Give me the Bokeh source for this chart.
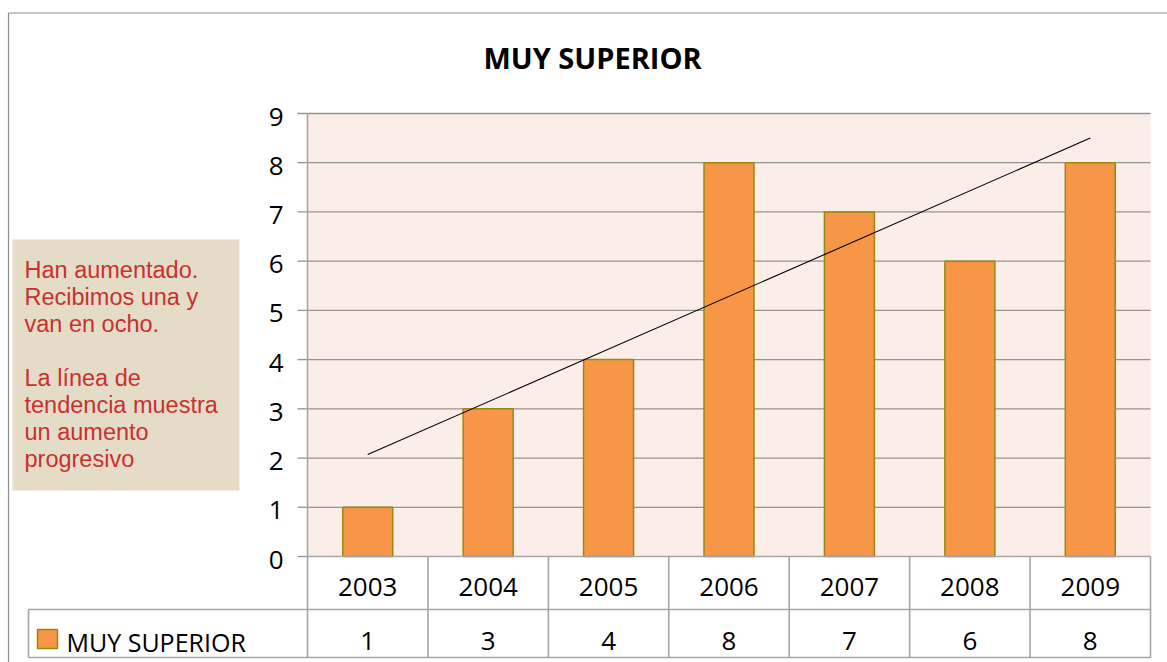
import numpy as np
from bokeh.plotting import figure
from bokeh.models import Range1d, ColumnDataSource
from bokeh.core.properties import value
from bokeh.embed import file_html
from bokeh.resources import INLINE

# ---------------- data ----------------
title_text = "MUY SUPERIOR"
series_name = "MUY SUPERIOR"
years = ["2003", "2004", "2005", "2006", "2007", "2008", "2009"]
values = [1, 3, 4, 8, 7, 6, 8]
y_ticks = [0, 1, 2, 3, 4, 5, 6, 7, 8, 9]
note_lines = [
    "Han aumentado.",
    "Recibimos una  y",
    "van en ocho.",
    "",
    "La línea de",
    "tendencia muestra",
    "un aumento",
    "progresivo",
]

# ---------------- layout (pixels in the picture) ----------------
W, H = 1167, 662
OX, OY = 0, 0
PL, PR = 307, 1150          # plot area left/right
PT, PB = 113, 556           # plot area top/bottom
n = len(years)
CW = (PR - PL) / n
U = (PB - PT) / (len(y_ticks) - 1)


def dx(px):
    return (px - PL) / CW


def dy(py):
    return (PB - py) / U


p = figure(width=W, height=H, output_backend="svg", toolbar_location=None,
           x_axis_location=None, y_axis_location=None,
           x_range=Range1d(dx(OX), dx(OX + W)),
           y_range=Range1d(dy(OY + H), dy(OY)),
           min_border=0, min_border_left=0, min_border_right=0,
           min_border_top=0, min_border_bottom=0)
p.outline_line_color = None
p.xgrid.visible = False
p.ygrid.visible = False
p.background_fill_color = "white"
p.border_fill_color = "white"

GRID = "#939393"
TABLE = "#A6A6A6"
ORANGE = "#F79646"
OLIVE = "#948A10"
FONT = "Open Sans"

# outer chart border (left and top)
p.segment(x0=[dx(8), dx(8)], y0=[dy(12.5), dy(12.5)],
          x1=[dx(8), dx(1175)], y1=[dy(680), dy(12.5)],
          line_color="#8C8C8C", line_width=1.2)

# title
p.text(x=[dx(592)], y=[dy(57)], text=[title_text], text_font=value(FONT),
       text_font_size=value("29px"), text_font_style="bold",
       text_align="center", text_baseline="middle", text_color="black")

# note box
p.quad(left=[dx(12)], right=[dx(239)], top=[dy(239)], bottom=[dy(490)],
       fill_color="#E5DCC8", line_color=None)
note_y = [dy(269 + 27.1 * k) for k in range(len(note_lines))]
p.text(x=[dx(24)] * len(note_lines), y=note_y, text=note_lines,
       text_font=value("Liberation Sans"), text_font_size=value("23.5px"),
       text_align="left", text_baseline="alphabetic", text_color="#C8312E")

# plot area background
p.quad(left=[0], right=[n], bottom=[y_ticks[0]], top=[y_ticks[-1]],
       fill_color="#FBEDE8", line_color=None)

# gridlines and tick marks
p.segment(x0=[0] * (len(y_ticks) - 1), x1=[n] * (len(y_ticks) - 1),
          y0=y_ticks[1:], y1=y_ticks[1:], line_color=GRID, line_width=1.3)
p.segment(x0=[dx(297)] * len(y_ticks), x1=[0] * len(y_ticks),
          y0=y_ticks, y1=y_ticks, line_color=GRID, line_width=1.3)

# y tick labels
p.text(x=[dx(283)] * len(y_ticks), y=[t - 3 / U for t in y_ticks],
       text=[str(t) for t in y_ticks], text_font=value(FONT),
       text_font_size=value("26px"), text_align="right",
       text_baseline="middle", text_color="black")

# bars
idx = np.arange(n)
src = ColumnDataSource(dict(x=idx + 0.5, top=values, year=years))
p.vbar(x="x", top="top", bottom=0, width=0.415, source=src,
       fill_color=ORANGE, line_color=OLIVE, line_width=1.5)

# linear trend line
slope, intercept = np.polyfit(idx, values, 1)
tx = np.array([idx[0], idx[-1]], dtype=float)
p.line(x=tx + 0.5, y=slope * tx + intercept, line_color="black", line_width=1.1)

# data table
row_div = dy(609)
tbl_bot = dy(657)
p.segment(x0=[0, dx(28), dx(28)], x1=[n, n, n],
          y0=[0, row_div, tbl_bot], y1=[0, row_div, tbl_bot],
          line_color=TABLE, line_width=1.6)
xs = list(range(1, n + 1))
p.segment(x0=xs, x1=xs, y0=[0] * n, y1=[tbl_bot] * n,
          line_color=TABLE, line_width=1.6)
p.segment(x0=[0, dx(28)], x1=[0, dx(28)], y0=[y_ticks[-1], row_div],
          y1=[tbl_bot, tbl_bot], line_color=TABLE, line_width=1.6)

p.text(x=idx + 0.5, y=[dy(586)] * n, text=years, text_font=value(FONT),
       text_font_size=value("26px"), text_align="center",
       text_baseline="middle", text_color="black")
p.text(x=idx + 0.5, y=[dy(640)] * n, text=[str(v) for v in values],
       text_font=value(FONT), text_font_size=value("26px"),
       text_align="center", text_baseline="middle", text_color="black")

# legend key in table
p.quad(left=[dx(37)], right=[dx(57)], top=[dy(629)], bottom=[dy(648)],
       fill_color=ORANGE, line_color=OLIVE, line_width=1.5)
p.text(x=[dx(66)], y=[dy(641)], text=[series_name], text_font=value(FONT),
       text_font_size=value("25px"), text_align="left",
       text_baseline="middle", text_color="black")

open("out.html", "w").write(file_html(p, INLINE))
